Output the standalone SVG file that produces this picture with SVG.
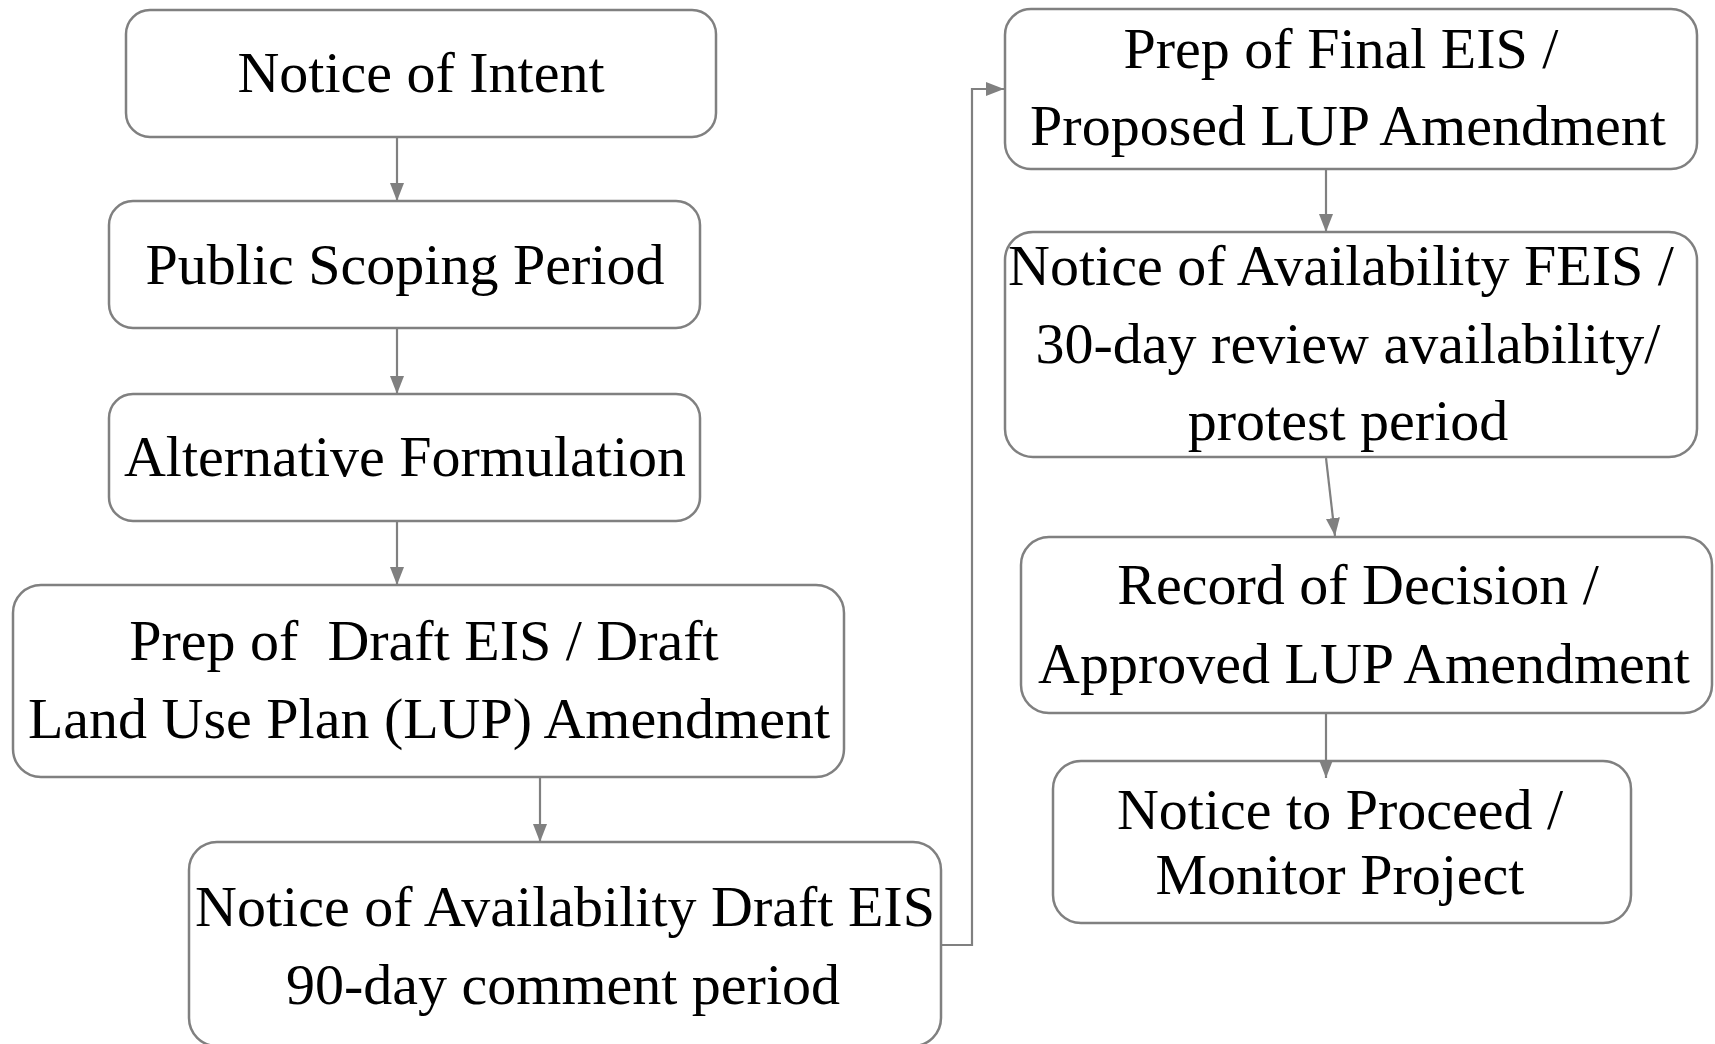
<svg xmlns="http://www.w3.org/2000/svg" width="1715" height="1044" viewBox="0 0 1715 1044">
<style>
.box{fill:#ffffff;stroke:#808080;stroke-width:2.5}
.t{font-family:"Liberation Serif","Times New Roman",serif;font-size:58px;fill:#000000;text-anchor:middle}
.c{fill:none;stroke:#808080;stroke-width:2.2}
</style>
<defs>
<marker id="ah" markerUnits="userSpaceOnUse" markerWidth="18" markerHeight="14" refX="18" refY="7" orient="auto">
<path d="M0,0 L18,7 L0,14 z" fill="#808080"/>
</marker>
</defs>
<rect width="1715" height="1044" fill="#ffffff"/>
<g id="n1">
<rect class="box" x="126" y="10" width="590" height="127" rx="24"/>
<text class="t" x="421" y="92">Notice of Intent</text>
</g>
<g id="n2">
<rect class="box" x="109" y="201" width="591" height="127" rx="24"/>
<text class="t" x="405" y="284">Public Scoping Period</text>
</g>
<g id="n3">
<rect class="box" x="109" y="394" width="591" height="127" rx="24"/>
<text class="t" x="405" y="476">Alternative Formulation</text>
</g>
<g id="n4">
<rect class="box" x="13" y="585" width="831" height="192" rx="28"/>
<text class="t" x="424" y="660" xml:space="preserve">Prep of  Draft EIS / Draft</text>
<text class="t" x="429" y="738">Land Use Plan (LUP) Amendment</text>
</g>
<g id="n5">
<rect class="box" x="189" y="842" width="752" height="204" rx="28"/>
<text class="t" x="565" y="926">Notice of Availability Draft EIS</text>
<text class="t" x="563" y="1004">90-day comment period</text>
</g>
<g id="n6">
<rect class="box" x="1005" y="9" width="692" height="160" rx="26"/>
<text class="t" x="1341" y="68">Prep of Final EIS /</text>
<text class="t" x="1348" y="145">Proposed LUP Amendment</text>
</g>
<g id="n7">
<rect class="box" x="1005" y="232" width="692" height="225" rx="28"/>
<text class="t" x="1341" y="285">Notice of Availability FEIS /</text>
<text class="t" x="1348" y="363">30-day review availability/</text>
<text class="t" x="1348" y="440">protest period</text>
</g>
<g id="n8">
<rect class="box" x="1021" y="537" width="691" height="176" rx="28"/>
<text class="t" x="1358" y="604">Record of Decision /</text>
<text class="t" x="1364" y="683">Approved LUP Amendment</text>
</g>
<g id="n9">
<rect class="box" x="1053" y="761" width="578" height="162" rx="28"/>
<text class="t" x="1340" y="829">Notice to Proceed /</text>
<text class="t" x="1340" y="894">Monitor Project</text>
</g>
<g id="connectors">
<line class="c" x1="397" y1="137" x2="397" y2="201" marker-end="url(#ah)"/>
<line class="c" x1="397" y1="328" x2="397" y2="394" marker-end="url(#ah)"/>
<line class="c" x1="397" y1="521" x2="397" y2="585" marker-end="url(#ah)"/>
<line class="c" x1="540" y1="777" x2="540" y2="842" marker-end="url(#ah)"/>
<polyline class="c" points="941,945 972,945 972,89 1004,89" marker-end="url(#ah)"/>
<line class="c" x1="1326" y1="170" x2="1326" y2="232" marker-end="url(#ah)"/>
<line class="c" x1="1326" y1="458" x2="1335" y2="536" marker-end="url(#ah)"/>
<line class="c" x1="1326" y1="714" x2="1326" y2="778" marker-end="url(#ah)"/>
</g>
</svg>
